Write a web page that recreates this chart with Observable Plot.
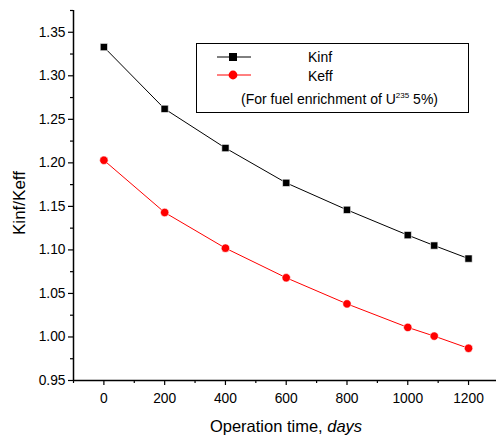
<!DOCTYPE html>
<html>
<head>
<meta charset="utf-8">
<script src="https://cdn.jsdelivr.net/npm/d3@7"></script>
<script src="https://cdn.jsdelivr.net/npm/@observablehq/plot@0.6"></script>
<style>
  html, body { margin: 0; padding: 0; background: #fff; }
  #wrap { position: relative; width: 496px; height: 437px; font-family: "Liberation Sans", Arial, sans-serif; }
  #legend { position: absolute; left: 196px; top: 43px; width: 273px; height: 70px; border: 1px solid #000; box-sizing: border-box; background: #fff; font-size: 14px; line-height: 16px; color: #000; }
  #legend .row { position: absolute; left: 0; white-space: nowrap; }
  #legend svg { position: absolute; }
</style>
</head>
<body>
<div id="wrap"></div>
<script>
const days = [0, 200, 400, 600, 800, 1000, 1087, 1200];
const kinf = [1.333, 1.262, 1.217, 1.177, 1.146, 1.117, 1.105, 1.090];
const keff = [1.203, 1.143, 1.102, 1.068, 1.038, 1.011, 1.001, 0.987];
const yTicks = [0.95, 1.00, 1.05, 1.10, 1.15, 1.20, 1.25, 1.30, 1.35];
const yMinor = [0.975, 1.025, 1.075, 1.125, 1.175, 1.225, 1.275, 1.325, 1.375];
const xTicks = [0, 200, 400, 600, 800, 1000, 1200];
const xMinor = [-100, 100, 300, 500, 700, 900, 1100];

const kinfData = days.map((d, i) => ({x: d, y: kinf[i]}));
const keffData = days.map((d, i) => ({x: d, y: keff[i]}));

const chart = Plot.plot({
  width: 496,
  height: 437,
  marginLeft: 73,
  marginRight: 0,
  marginTop: 10,
  marginBottom: 57,
  style: {fontFamily: "'Liberation Sans', Arial, sans-serif", fontSize: "13.8px", color: "#000", background: "#fff"},
  x: {domain: [-100, 1292]},
  y: {domain: [0.95, 1.375]},
  marks: [
    Plot.axisY({ticks: yTicks, tickSize: 5, tickFormat: d3.format(".2f"), label: null, tickPadding: 3, fontSize: 13.8, strokeWidth: 1.2}),
    Plot.axisY({ticks: yMinor, tickSize: 3, text: null, label: null, strokeWidth: 1.2}),
    Plot.axisX({ticks: xTicks, tickSize: 5, tickFormat: d => String(d), label: null, tickPadding: 8, fontSize: 13.8, strokeWidth: 1.2}),
    Plot.axisX({ticks: xMinor, tickSize: 3, text: null, label: null, strokeWidth: 1.2}),
    Plot.ruleX([-100], {stroke: "#000", strokeWidth: 1.5}),
    Plot.ruleY([0.95], {stroke: "#000", strokeWidth: 1.5}),
    Plot.line(kinfData, {x: "x", y: "y", stroke: "#000", strokeWidth: 1}),
    Plot.line(keffData, {x: "x", y: "y", stroke: "#ff0000", strokeWidth: 1}),
    Plot.dot(kinfData, {x: "x", y: "y", symbol: "square", fill: "#000", r: 4.1, stroke: "#fff", strokeWidth: 0.6}),
    Plot.dot(keffData, {x: "x", y: "y", symbol: "circle", fill: "#ff0000", r: 4.2, stroke: "#fff", strokeWidth: 0.6})
  ]
});

const svg = d3.select(chart);
svg.append("text")
  .attr("transform", "translate(25,203) rotate(-90)")
  .attr("text-anchor", "middle")
  .attr("font-size", 17)
  .attr("fill", "#000")
  .text("Kinf/Keff");
const xl = svg.append("text")
  .attr("x", 286).attr("y", 432)
  .attr("text-anchor", "middle")
  .attr("font-size", 16.5)
  .attr("fill", "#000");
xl.append("tspan").text("Operation time, ");
xl.append("tspan").attr("font-style", "italic").text("days");

const wrap = document.getElementById("wrap");
wrap.appendChild(chart);

const legend = document.createElement("div");
legend.id = "legend";
legend.innerHTML = `
  <svg style="left:19px;top:7px" width="36" height="12"><line x1="1" y1="6" x2="35" y2="6" stroke="#000" stroke-width="1"/><rect x="13" y="2" width="8" height="8" fill="#000"/></svg>
  <div class="row" style="left:111px;top:5px">Kinf</div>
  <svg style="left:19px;top:25px" width="36" height="12"><line x1="1" y1="6" x2="35" y2="6" stroke="#ff0000" stroke-width="1"/><circle cx="17" cy="6" r="4.4" fill="#ff0000"/></svg>
  <div class="row" style="left:111px;top:24px">Keff</div>
  <div class="row" style="left:44px;top:47px">(For fuel enrichment of U<sup style="font-size:8px;vertical-align:6px;line-height:0">235</sup> 5%)</div>
`;
wrap.appendChild(legend);
</script>
</body>
</html>
